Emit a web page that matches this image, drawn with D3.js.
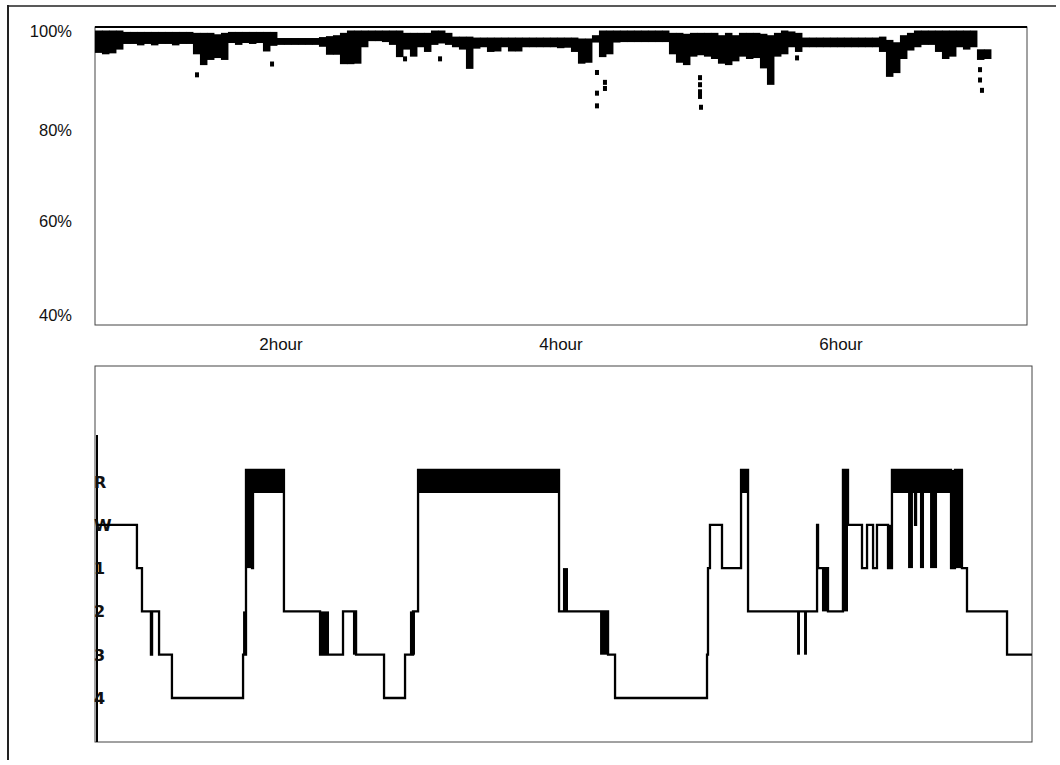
<!DOCTYPE html>
<html>
<head>
<meta charset="utf-8">
<script src="https://cdn.jsdelivr.net/npm/d3@7.9.0/dist/d3.min.js"></script>
<style>
  body { margin: 0; background: #fff; }
  svg { display: block; }
  text { font-family: "Liberation Sans", Arial, sans-serif; fill: #111; }
</style>
</head>
<body>
<svg width="1060" height="765"></svg>
<script>
// SpO2 axis
const spoTicks = [100, 80, 60, 40];
const hourTicks = [2, 4, 6];

// SpO2 band, one bin every 0.05 h from spoStart (upper / lower value of the trace)
const spoStart = 0.671;
const spoStep = 0.05;
const spoHigh = [
  100, 100, 100, 100, 99.7, 99.7, 99.7, 99.7, 99.7, 99.7,
  99.7, 99.7, 99.7, 99.7, 99.5, 99.5, 99.5, 99.2, 99.5, 99.7,
  99.7, 99.7, 99.7, 99.7, 99.7, 99.7, 98.4, 98.4, 98.4, 98.4,
  98.4, 98.4, 98.6, 98.8, 99.0, 99.5, 100, 100, 100, 100,
  100, 100, 100, 100, 99.5, 99.5, 99.5, 99.5, 100, 100,
  99.5, 98.7, 98.7, 98.7, 98.5, 98.5, 98.5, 98.5, 98.5, 98.5,
  98.5, 98.5, 98.5, 98.5, 98.5, 98.5, 98.5, 98.5, 98.5, 98.3,
  98.3, 99.0, 100, 100, 100, 100, 100, 100, 100, 100,
  100, 100, 99.5, 99.5, 99.3, 99.5, 99.5, 99.5, 99.5, 99.0,
  99.5, 99.0, 99.5, 99.5, 99.5, 99.3, 99.0, 99.5, 100, 99.8,
  99.5, 98.5, 98.5, 98.5, 98.5, 98.5, 98.5, 98.5, 98.5, 98.5,
  98.5, 98.5, 98.7, 98.0, 97.5, 99.0, 99.5, 100, 100, 100,
  100, 100, 100, 100, 100, 100, 96.0, 96.0
];
const spoLow = [
  96.3, 96.0, 96.2, 97.0, 98.2, 98.2, 97.9, 98.2, 97.9, 98.2,
  98.2, 97.9, 98.2, 98.2, 96.0, 93.7, 94.8, 95.2, 94.8, 98.4,
  98.0, 98.4, 98.2, 98.4, 96.6, 97.8, 98.0, 98.0, 98.0, 98.0,
  98.0, 98.0, 97.6, 95.9, 95.9, 93.9, 93.9, 94.0, 97.5, 98.8,
  98.8, 98.6, 98.0, 95.4, 97.0, 95.5, 97.5, 96.5, 98.0, 98.3,
  98.0, 97.5, 97.0, 92.9, 97.2, 97.5, 96.5, 96.6, 97.5, 96.6,
  96.6, 97.5, 97.5, 97.5, 97.5, 97.5, 97.3, 97.4, 96.5, 94.0,
  94.2, 98.5, 95.4, 96.0, 98.5, 98.6, 98.6, 98.6, 98.6, 98.6,
  98.6, 98.6, 96.0, 94.2, 93.7, 95.5, 95.8, 95.5, 95.0, 94.0,
  93.7, 94.5, 95.5, 95.0, 95.2, 93.0, 89.5, 95.5, 96.0, 97.5,
  96.5, 97.5, 97.5, 97.5, 97.5, 97.5, 97.5, 97.5, 97.5, 97.5,
  97.5, 97.5, 96.5, 91.2, 92.0, 95.0, 96.8, 97.5, 98.0, 98.0,
  96.5, 95.0, 95.5, 97.5, 97.0, 97.5, 94.8, 95.0
];

// isolated SpO2 readings below the band
const spoDotTime = [1.400, 1.936, 2.886, 3.136, 4.257, 4.257, 4.257, 4.314, 4.314,
  4.993, 4.993, 4.993, 4.993, 5.000, 5.686, 6.993, 6.993, 7.007];
const spoDotValue = [91.1, 93.4, 94.5, 94.5, 91.6, 87.2, 84.5, 89.5, 88.2,
  90.5, 89.0, 87.5, 86.5, 84.2, 94.7, 92.2, 90.0, 87.8];

// hypnogram: stage from each time (hours) until the next
const stages = ['R', 'W', '1', '2', '3', '4'];
const hypTime = [
  0.686, 0.971, 1.007, 1.071, 1.079, 1.129, 1.221, 1.729, 1.750, 1.793,
  1.800, 2.021, 2.279, 2.443, 2.536, 2.736, 2.886, 2.943, 2.979, 3.986,
  4.336, 4.386, 5.043, 5.050, 5.064, 5.150, 5.286, 5.336, 5.829, 5.836,
  5.907, 6.014, 6.050, 6.150, 6.186, 6.229, 6.257, 6.336, 6.364, 6.529,
  6.536, 6.786, 6.814, 6.864, 6.900, 7.186, 7.364
];
const hypStage = [
  'W', '1', '2', '3', '2', '3', '4', '3', 'R', '1',
  'R', '2', '3', '2', '3', '4', '3', '2', 'R', '2',
  '3', '4', '3', '1', 'W', '1', 'R', '2', 'W', '1',
  '2', 'R', 'W', '1', 'W', '1', 'W', '1', 'R', 'W',
  'R', '1', 'R', '1', '2', '3', '3'
];

// stretches of rapid stage switching, drawn as solid blocks
const denseStart = [1.729, 1.750, 2.279, 2.514, 2.921, 4.014, 4.279, 5.686, 5.736,
  5.864, 6.014, 6.336, 6.479, 6.564, 6.636, 6.786];
const denseEnd = [1.757, 1.786, 2.343, 2.543, 2.957, 4.050, 4.336, 5.707, 5.757,
  5.907, 6.050, 6.364, 6.514, 6.593, 6.686, 6.871];
const denseFrom = ['2', 'R', '2', '2', '2', '1', '2', '2', '2', '1', 'R', 'W', 'R', 'R', 'R', 'R'];
const denseTo = ['3', '1', '3', '3', '3', '2', '3', '3', '3', '2', '2', '1', '1', '1', '1', '1'];

const svg = d3.select('svg');
const x = d3.scaleLinear().domain([0, 7.4]).range([1, 1037]);
const ySpo = d3.scaleLinear().domain([40, 100]).range([315, 33]);
const yStage = d3.scalePoint().domain(stages).range([481.5, 698]);
const remHalf = 11.5;
const lineY = s => s === 'R' ? yStage('R') - remHalf : yStage(s);

// outer frame
svg.append('line').attr('x1', 8).attr('x2', 1056).attr('y1', 6).attr('y2', 6)
  .attr('stroke', '#222').attr('stroke-width', 1.5);
svg.append('line').attr('x1', 8).attr('x2', 8).attr('y1', 5).attr('y2', 760)
  .attr('stroke', '#222').attr('stroke-width', 2);

// ---- top panel: SpO2 ----
svg.append('rect').attr('x', 95).attr('y', 27).attr('width', 932).attr('height', 298)
  .attr('fill', 'none').attr('stroke', '#444').attr('stroke-width', 1);
svg.append('line').attr('x1', 95).attr('x2', 1027).attr('y1', 27).attr('y2', 27)
  .attr('stroke', '#000').attr('stroke-width', 2);

svg.append('g').selectAll('text').data(spoTicks).join('text')
  .attr('x', 72).attr('y', d => ySpo(d) + 6 - (d === 100 ? 2 : 0) + (d === 80 ? 3 : 0))
  .attr('text-anchor', 'end').style('font-size', '16.5px')
  .text(d => d + '%');

svg.append('g').selectAll('text').data(hourTicks).join('text')
  .attr('x', d => x(d)).attr('y', 350)
  .attr('text-anchor', 'middle').style('font-size', '17px')
  .text(d => d + 'hour');

const spoG = svg.append('g');
spoHigh.forEach((hi, i) => {
  const t = spoStart + i * spoStep;
  spoG.append('rect')
    .attr('x', x(t))
    .attr('width', x(t + spoStep) - x(t) + 0.5)
    .attr('y', ySpo(hi) - 2.5)
    .attr('height', ySpo(spoLow[i]) - ySpo(hi) + 5)
    .attr('fill', '#000');
});
spoG.selectAll('.dot').data(spoDotTime).join('rect')
  .attr('class', 'dot')
  .attr('x', d => x(d) - 2).attr('width', 4)
  .attr('y', (d, i) => ySpo(spoDotValue[i]) - 2.5).attr('height', 5)
  .attr('fill', '#000');

// ---- bottom panel: hypnogram ----
svg.append('rect').attr('x', 95).attr('y', 366).attr('width', 937).attr('height', 376)
  .attr('fill', 'none').attr('stroke', '#444').attr('stroke-width', 1);
svg.append('line').attr('x1', 97).attr('x2', 97).attr('y1', 435).attr('y2', 742)
  .attr('stroke', '#000').attr('stroke-width', 2);

svg.append('g').selectAll('text').data(stages).join('text')
  .attr('x', 94).attr('y', d => yStage(d) + 6)
  .style('font-size', '16px').style('font-weight', 'bold')
  .style('font-family', '"DejaVu Sans", sans-serif')
  .text(d => d);

const hyp = hypTime.map((t, i) => [t, hypStage[i]]);

// REM blocks
const remG = svg.append('g');
hyp.forEach((d, i) => {
  if (d[1] !== 'R' || i === hyp.length - 1) return;
  remG.append('rect')
    .attr('x', x(d[0]))
    .attr('width', x(hyp[i + 1][0]) - x(d[0]))
    .attr('y', yStage('R') - remHalf)
    .attr('height', remHalf * 2)
    .attr('fill', '#000');
});

svg.append('path')
  .datum(hyp)
  .attr('fill', 'none')
  .attr('stroke', '#000')
  .attr('stroke-width', 2.3)
  .attr('d', d3.line().x(d => x(d[0])).y(d => lineY(d[1])).curve(d3.curveStepAfter));

svg.append('g').selectAll('rect').data(denseStart).join('rect')
  .attr('x', d => x(d))
  .attr('width', (d, i) => x(denseEnd[i]) - x(d))
  .attr('y', (d, i) => lineY(denseFrom[i]))
  .attr('height', (d, i) => lineY(denseTo[i]) - lineY(denseFrom[i]))
  .attr('fill', '#000');
</script>
</body>
</html>
